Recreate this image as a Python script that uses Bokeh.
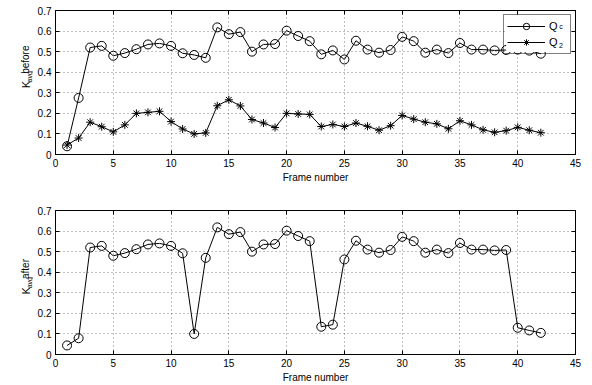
import math
from bokeh.plotting import figure
from bokeh.models import (Range1d, LinearAxis, Legend, LegendItem, BoxAnnotation,
                          FixedTicker, CustomJSTickFormatter)
from bokeh.core.properties import value
from bokeh.layouts import column, row
from bokeh.embed import file_html
from bokeh.resources import INLINE

frames = list(range(1, 43))
qc_before = [0.040, 0.275, 0.520, 0.528, 0.480, 0.493, 0.512, 0.535, 0.540, 0.528,
             0.492, 0.484, 0.470, 0.618, 0.585, 0.595, 0.500, 0.535, 0.537, 0.602,
             0.576, 0.551, 0.487, 0.506, 0.462, 0.553, 0.510, 0.495, 0.508, 0.572,
             0.551, 0.495, 0.510, 0.493, 0.542, 0.510, 0.510, 0.506, 0.508, 0.510,
             0.505, 0.490]
q2_before = [0.046, 0.080, 0.157, 0.135, 0.110, 0.144, 0.200, 0.205, 0.210, 0.160,
             0.124, 0.100, 0.105, 0.237, 0.266, 0.236, 0.170, 0.153, 0.131, 0.200,
             0.197, 0.195, 0.136, 0.146, 0.136, 0.153, 0.137, 0.118, 0.140, 0.190,
             0.172, 0.157, 0.149, 0.125, 0.164, 0.144, 0.120, 0.108, 0.116, 0.132,
             0.118, 0.106]
qc_after = [0.044, 0.079, 0.520, 0.528, 0.480, 0.493, 0.512, 0.535, 0.540, 0.528,
            0.492, 0.100, 0.470, 0.618, 0.585, 0.595, 0.500, 0.535, 0.537, 0.602,
            0.576, 0.551, 0.135, 0.145, 0.462, 0.553, 0.510, 0.495, 0.508, 0.572,
            0.551, 0.495, 0.510, 0.493, 0.542, 0.510, 0.510, 0.506, 0.508, 0.130,
            0.117, 0.105]
x_ticks = [0, 5, 10, 15, 20, 25, 30, 35, 40, 45]
y_ticks = [0, 0.1, 0.2, 0.3, 0.4, 0.5, 0.6, 0.7]
x_label = "Frame number"
legend_names = ["Q", "Q"]
legend_subs = ["c", "2"]
y_label_main = "K"
y_label_sub = "avg"
y_label_words = ["before", "after"]

FONT = "Liberation Sans"
LAB_W = 33
fmt = CustomJSTickFormatter(code="return tick == 0 ? '0' : (Math.round(tick*10)/10).toString();")


def make_fig(height, top, bottom):
    p = figure(width=592 - LAB_W, height=height, output_backend="svg", toolbar_location=None,
               x_range=Range1d(0, 45), y_range=Range1d(0, 0.7),
               min_border_left=55 - LAB_W, min_border_right=17,
               min_border_top=top, min_border_bottom=bottom)
    p.background_fill_color = "white"
    p.border_fill_color = "white"
    p.outline_line_color = "black"
    p.outline_line_width = 1
    p.xaxis.ticker = FixedTicker(ticks=x_ticks)
    p.yaxis.ticker = FixedTicker(ticks=y_ticks)
    p.yaxis.formatter = fmt
    for ax in (p.xaxis[0], p.yaxis[0]):
        ax.axis_line_color = "black"
        ax.major_tick_line_color = "black"
        ax.major_tick_in = 4
        ax.major_tick_out = 0
        ax.minor_tick_line_color = None
        ax.major_label_text_font = FONT
        ax.major_label_text_font_size = "10px"
        ax.major_label_text_color = "black"
    p.xaxis.major_label_standoff = 4
    p.yaxis.major_label_standoff = 4
    p.xaxis.axis_label = x_label
    p.xaxis.axis_label_text_font = FONT
    p.xaxis.axis_label_text_font_size = "10px"
    p.xaxis.axis_label_text_font_style = "normal"
    p.xaxis.axis_label_text_color = "black"
    p.xaxis.axis_label_standoff = 2
    for loc, tk in (("right", y_ticks), ("above", x_ticks)):
        ax = LinearAxis(ticker=FixedTicker(ticks=tk), major_label_text_font_size="1px",
                        major_label_text_color=None,
                        major_label_standoff=0, major_tick_in=4, major_tick_out=0,
                        minor_tick_line_color=None, axis_line_color="black",
                        major_tick_line_color="black")
        p.add_layout(ax, loc)
    p.xgrid.ticker = FixedTicker(ticks=x_ticks)
    p.ygrid.ticker = FixedTicker(ticks=y_ticks)
    p.grid.grid_line_color = "black"
    p.grid.grid_line_alpha = 0.5
    p.grid.grid_line_dash = "1 3"
    return p


def make_label_fig(height, word):
    # narrow strip holding the composed y-axis title (pixel coordinates, y up)
    q = figure(width=LAB_W, height=height, output_backend="svg", toolbar_location=None,
               x_range=Range1d(0, LAB_W), y_range=Range1d(0, height),
               min_border=0, x_axis_type=None, y_axis_type=None)
    q.outline_line_color = None
    q.grid.visible = False
    q.background_fill_color = "white"
    q.border_fill_color = "white"
    base = height - 108
    q.text(x=[25.0], y=[base], text=[y_label_main], angle=math.pi / 2,
           text_font=value(FONT), text_font_size=value("11px"),
           text_align="left", text_baseline="middle", text_color="black")
    q.text(x=[28.5], y=[base + 8], text=[y_label_sub], angle=math.pi / 2,
           text_font=value(FONT), text_font_size=value("7px"),
           text_align="left", text_baseline="middle", text_color="black")
    q.text(x=[24.5], y=[base + 20], text=[word], angle=math.pi / 2,
           text_font=value(FONT), text_font_size=value("10px"),
           text_align="left", text_baseline="middle", text_color="black")
    return q


p1 = make_fig(200, 10, 46)
l1 = p1.line(frames, qc_before, line_color="black", line_width=1)
s1 = p1.scatter(frames, qc_before, marker="circle", size=9, line_color="black",
                fill_color=None, line_width=1)
l2 = p1.line(frames, q2_before, line_color="black", line_width=1)
s2 = p1.scatter(frames, q2_before, marker="asterisk", size=8, line_color="black",
                line_width=1)
# opaque backdrop for the (transparent) legend, drawn above the data lines
p1.add_layout(BoxAnnotation(left=38.99, right=44.61, top=0.6781, bottom=0.4983,
                            fill_color="white", fill_alpha=1.0, line_color=None,
                            level="glyph"))
leg = Legend(items=[LegendItem(label=legend_names[0], renderers=[l1, s1]),
                    LegendItem(label=legend_names[1], renderers=[l2, s2])],
             location="top_right", margin=4, padding=3, spacing=0,
             glyph_width=38, glyph_height=16, label_standoff=4,
             label_width=18, label_height=16,
             label_text_font=FONT, label_text_font_size="11px",
             label_text_color="black", label_text_baseline="middle",
             border_line_color="black", border_line_width=1,
             background_fill_alpha=0.0)
p1.add_layout(leg, "center")
p1.text(x=[43.75, 43.75], y=[0.6076, 0.5200], text=legend_subs,
        text_font=value(FONT), text_font_size=value("7px"),
        text_align="center", text_baseline="bottom", text_color="black",
        level="annotation")

p2 = make_fig(185, 10, 31)
p2.line(frames, qc_after, line_color="black", line_width=1)
p2.scatter(frames, qc_after, marker="circle", size=9, line_color="black",
           fill_color=None, line_width=1)

q1 = make_label_fig(200, y_label_words[0])
q2 = make_label_fig(185, y_label_words[1])

layout = column(row(q1, p1, spacing=0), row(q2, p2, spacing=0), spacing=0)
open("out.html", "w").write(file_html(layout, INLINE))
